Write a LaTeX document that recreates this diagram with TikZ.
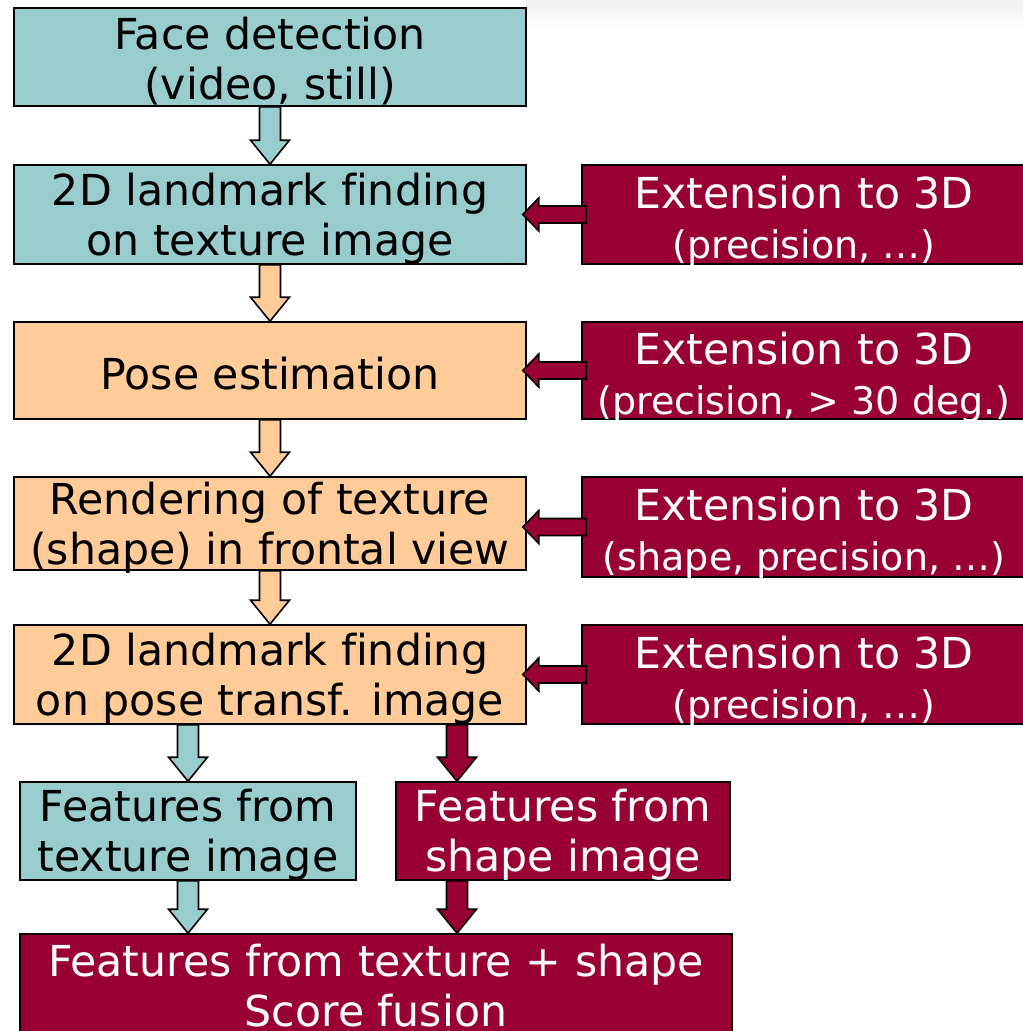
\documentclass[tikz,border=0pt]{standalone}
\usepackage{fontspec}
\setmainfont[Ligatures=NoCommon]{DejaVu Sans}
\usetikzlibrary{calc}
\definecolor{tealA}{RGB}{153,204,204}
\definecolor{peachA}{RGB}{255,204,153}
\definecolor{wineA}{RGB}{153,0,51}
\newcommand\mainfnt{\fontsize{32}{37.5}\selectfont}
\newcommand\subfnt{\fontsize{28.5}{37.5}\selectfont}
\newcommand\lowstrut{\rule{0pt}{34pt}}
\newcommand\midstrut{\rule{0pt}{30.5pt}}
\newcommand\onestrut{\rule{0pt}{28.5pt}}
\tikzset{
 box/.style={draw=black, line width=1.2pt, rectangle, inner xsep=0pt, inner ysep=-8pt, align=center, font=\mainfnt},
 tealbox/.style={box, fill=tealA, text=black},
 peachbox/.style={box, fill=peachA, text=black},
 winebox/.style={box, fill=wineA, text=white},
 blockarrow/.style={draw=black, line width=1.2pt, line join=miter},
}
% vertical block arrow: #1 fill, #2 start (top), #3 tip (bottom)
\newcommand\varrow[3]{\draw[blockarrow, fill=#1] let \p1=(#2), \p2=(#3) in
  (\x1-7.9pt,\y1) -- (\x1-7.9pt,\y2+18pt) -- (\x1-14.6pt,\y2+18pt) -- (\x1,\y2)
  -- (\x1+14.6pt,\y2+18pt) -- (\x1+7.9pt,\y2+18pt) -- (\x1+7.9pt,\y1) -- cycle;}
% horizontal leftward block arrow: #1 fill, #2 start (right), #3 tip (left)
\newcommand\harrow[3]{\draw[blockarrow, fill=#1] let \p1=(#2), \p2=(#3) in
  (\x1,\y1+6.4pt) -- (\x2+12pt,\y1+6.4pt) -- (\x2+12pt,\y1+12.4pt) -- (\x2,\y1)
  -- (\x2+12pt,\y1-12.4pt) -- (\x2+12pt,\y1-6.4pt) -- (\x1,\y1-6.4pt) -- cycle;}
\begin{document}
\begin{tikzpicture}[x=0.75pt, y=-0.75pt]
\useasboundingbox (0,0) rectangle (1023,1031);
\clip (0,0) rectangle (1023,1031);
\fill[white] (0,0) rectangle (1023,1031);
\shade[top color=black!6, bottom color=white] (526,0) rectangle (1023,30);

\node[tealbox, minimum width=384pt, minimum height=73.5pt] (det) at (270,57) {\midstrut Face detection\\(video, still)};
\node[tealbox, minimum width=384pt, minimum height=74.25pt] (land1) at (270,214.5) {\midstrut 2D landmark finding\\on texture image};
\node[peachbox, minimum width=384pt, minimum height=72.75pt] (pose) at (270,370.5) {\onestrut Pose estimation};
\node[peachbox, minimum width=384pt, minimum height=69.75pt] (rend) at (270,523.5) {\midstrut Rendering of texture\\(shape) in frontal view};
\node[peachbox, minimum width=384pt, minimum height=74.25pt] (land2) at (270,674.5) {\midstrut 2D landmark finding\\on pose transf. image};

\node[winebox, minimum width=333pt, minimum height=74.25pt] (ext1) at (804,214.5) {\lowstrut Extension to 3D\\{\subfnt (precision, …)}};
\node[winebox, minimum width=333pt, minimum height=72.75pt] (ext2) at (804,370.5) {\lowstrut Extension to 3D\\{\subfnt (precision, > 30 deg.)}};
\node[winebox, minimum width=333pt, minimum height=75pt] (ext3) at (804,527) {\lowstrut Extension to 3D\\{\subfnt (shape, precision, …)}};
\node[winebox, minimum width=333pt, minimum height=74.25pt] (ext4) at (804,674.5) {\lowstrut Extension to 3D\\{\subfnt (precision, …)}};

\node[tealbox, minimum width=252pt, minimum height=73.5pt] (feat1) at (188,831) {\midstrut Features from\\texture image};
\node[winebox, minimum width=250.5pt, minimum height=73.5pt] (feat2) at (563,831) {\midstrut Features from\\shape image};
\node[winebox, minimum width=534pt, minimum height=78pt] (final) at (376,986) {Features from texture + shape\\Score fusion};

\coordinate (wx) at (457,750);

\varrow{tealA}{det.south}{land1.north}
\varrow{peachA}{land1.south}{pose.north}
\varrow{peachA}{pose.south}{rend.north}
\varrow{peachA}{rend.south}{land2.north}
\varrow{tealA}{land2.south -| feat1.north}{feat1.north}
\varrow{wineA}{land2.south -| wx}{feat2.north -| wx}
\varrow{tealA}{feat1.south}{final.north -| feat1.south}
\varrow{wineA}{feat2.south -| wx}{final.north -| wx}

\harrow{wineA}{$(ext1.west)+(5,0)$}{$(land1.east)+(-4,0)$}
\harrow{wineA}{$(ext2.west)+(5,0)$}{$(pose.east)+(-4,0)$}
\harrow{wineA}{$(ext3.west)+(5,0)$}{$(rend.east)+(-4,0)$}
\harrow{wineA}{$(ext4.west)+(5,0)$}{$(land2.east)+(-4,0)$}
\end{tikzpicture}
\end{document}
